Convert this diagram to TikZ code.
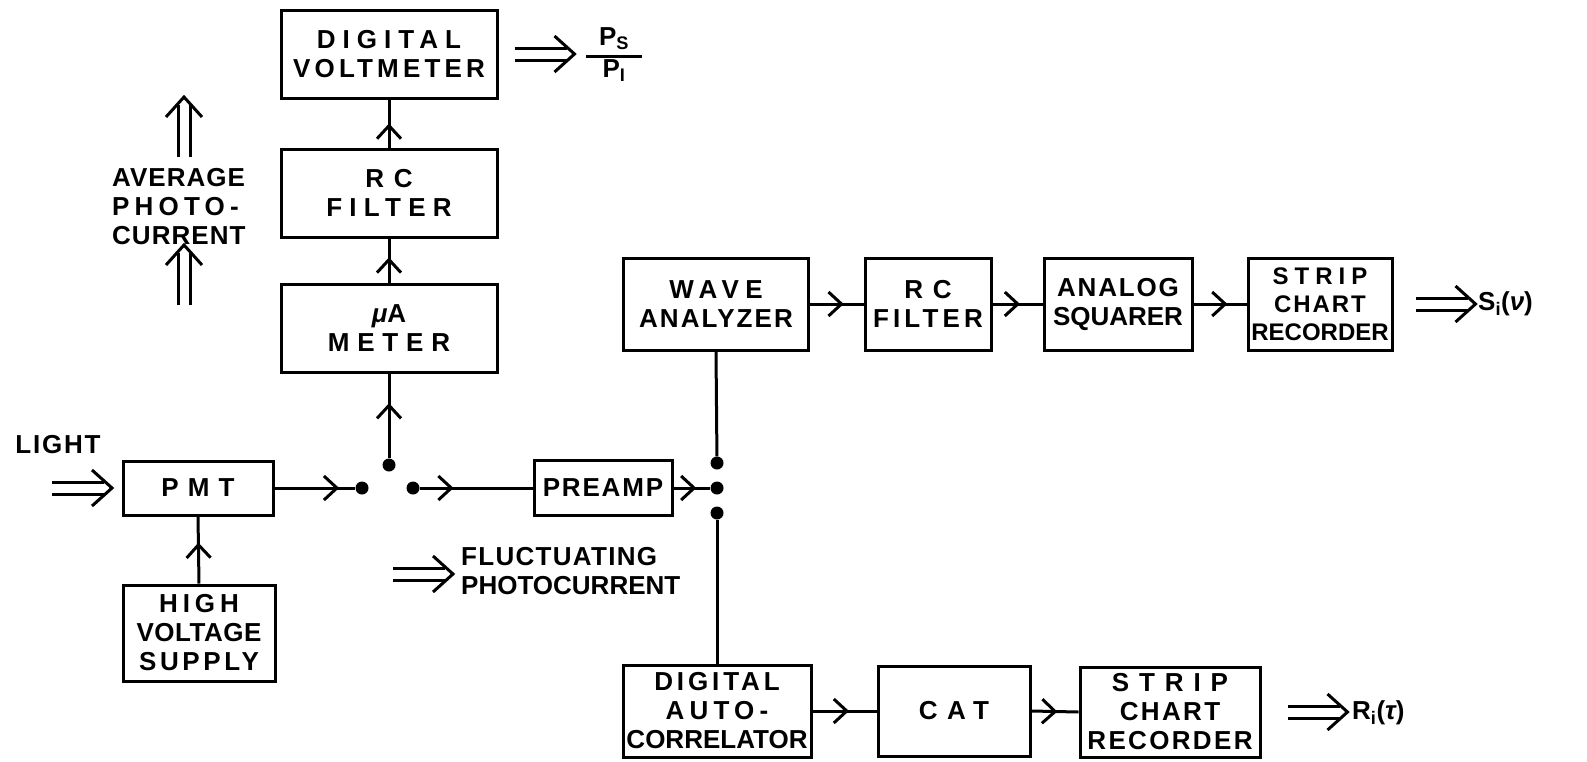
\documentclass[tikz,border=0pt]{standalone}
\usepackage{fontspec}
\setmainfont{Liberation Sans}
\usetikzlibrary{arrows.meta,decorations.markings}

\newcommand\lsp[2]{{\addfontfeature{LetterSpace=#1}#2}}

\tikzset{
    blk/.style={draw, line width=3pt, align=center, inner sep=0pt,
        font=\fontsize{26}{29}\selectfont\bfseries},
    lbl/.style={inner sep=0pt, align=left,
        font=\fontsize{26}{29}\selectfont\bfseries},
    wire/.style={line width=3pt},
    flow/.style={wire, postaction={decorate}, decoration={markings,
        mark=at position #1 with {\arrow{Straight Barb[length=13pt,width=24pt,line width=3pt]}}}},
    dot/.style={circle, fill, inner sep=0pt, minimum size=13pt},
    imp/.pic={
        \draw[line width=3pt] (0,-6) -- (52,-6) (0,6) -- (52,6);
        \draw[line width=3pt] (40,-18) -- (60,0) -- (40,18);
    }
}

\begin{document}
\begin{tikzpicture}[x=1pt, y=-1pt]
    \useasboundingbox (0,0) rectangle (1587,761);

    \node[blk, minimum width=216pt, minimum height=88pt] (volt) at (389,54)
        {\lsp{27}{DIGITAL}\\\lsp{16}{VOLTMETER}};
    \node[blk, minimum width=216pt, minimum height=88pt] (rca) at (389,193)
        {\lsp{10}{R C}\\\lsp{28}{FILTER}};
    \node[blk, minimum width=216pt, minimum height=88pt] (uam) at (389,328)
        {{\itshape μ}A\\\lsp{30}{METER}};
    \node[blk, minimum width=150pt, minimum height=54pt] (pmt) at (198,488)
        {\lsp{35}{PMT}};
    \node[blk, minimum width=152pt, minimum height=96pt] (hvs) at (199,633)
        {\lsp{19}{HIGH}\\\lsp{2}{VOLTAGE}\\\lsp{14}{SUPPLY}};
    \node[blk, minimum width=138pt, minimum height=55pt] (pre) at (603,488)
        {\lsp{7}{PREAMP}};

    \node[blk, minimum width=185pt, minimum height=92pt] (wave) at (716,304)
        {\lsp{24}{WAVE}\\\lsp{8}{ANALYZER}};
    \node[blk, minimum width=126pt, minimum height=92pt] (rcb) at (928,304)
        {\lsp{10}{R C}\\\lsp{16}{FILTER}};
    \node[blk, minimum width=148pt, minimum height=92pt] (sqr) at (1118,304)
        {\lsp{7}{ANALOG}\\SQUARER};
    \node[blk, minimum width=144pt, minimum height=92pt,
        font=\fontsize{24}{28}\selectfont\bfseries] (scra) at (1320,304)
        {\lsp{25}{STRIP}\\\lsp{8}{CHART}\\RECORDER};

    \node[blk, minimum width=188pt, minimum height=92pt] (acor) at (717,711)
        {\lsp{15}{DIGITAL}\\\lsp{20}{AUTO-}\\CORRELATOR};
    \node[blk, minimum width=152pt, minimum height=90pt] (cat) at (954,711)
        {\lsp{36}{CAT}};
    \node[blk, minimum width=180pt, minimum height=90pt] (scrb) at (1170,712)
        {\lsp{38}{STRIP}\\\lsp{9}{CHART}\\\lsp{9}{RECORDER}};

    \foreach \n/\x/\y in {sw1/362/488, sw2/389/465, sw3/413/488,
        j1/717/463, j2/717/488, j3/717/513}
        \node[dot] (\n) at (\x,\y) {};

    \draw[flow=0.5] (rca.north) -- (volt.south);
    \draw[flow=0.57] (uam.north) -- (rca.south);
    \draw[flow=0.65] (sw2) -- (uam.south);
    \draw[flow=0.8] (pmt.east) -- (sw1);
    \draw[flow=0.3] (sw3) -- (pre.west);
    \draw[flow=0.62] (pre.east) -- (j2);
    \draw[flow=0.61] (hvs.north) -- (pmt.south);
    \draw[wire] (j1) -- (wave.south);
    \draw[wire] (j3) -- (acor.north);
    \draw[flow=0.63] (wave.east) -- (rcb.west);
    \draw[flow=0.55] (rcb.east) -- (sqr.west);
    \draw[flow=0.64] (sqr.east) -- (scra.west);
    \draw[flow=0.57] (acor.east) -- (cat.west);
    \draw[flow=0.55] (cat.east) -- (scrb.west);

    \node[lbl] (light) at (58,445) {\lsp{7}{LIGHT}};
    \pic at (52,488) {imp};

    \node[lbl, anchor=west] (avg) at (112,207)
        {\lsp{4}{AVERAGE}\\\lsp{20}{PHOTO-}\\\lsp{4}{CURRENT}};
    \pic[rotate=90] at (184,157) {imp};
    \pic[rotate=90] at (184,305) {imp};

    \pic at ([xshift=16pt]volt.east) {imp};
    \node[lbl] (ratio) at (614,56)
        {\setlength\arrayrulewidth{3pt}%
        \begin{tabular}{@{\hspace{13pt}}c@{\hspace{13pt}}}
            P\textsubscript{S}\\\hline P\textsubscript{I}
        \end{tabular}};

    \pic at (393,574) {imp};
    \node[lbl, anchor=west] (fluct) at (461,571)
        {\lsp{5}{FLUCTUATING}\\PHOTOCURRENT};

    \pic at ([xshift=22pt]scra.east) {imp};
    \node[lbl, anchor=west] (spec) at (1478,304) {S\textsubscript{i}({\itshape ν})};

    \pic at ([xshift=26pt]scrb.east) {imp};
    \node[lbl, anchor=west] (corr) at (1352,713) {R\textsubscript{i}({\itshape τ})};
\end{tikzpicture}
\end{document}
